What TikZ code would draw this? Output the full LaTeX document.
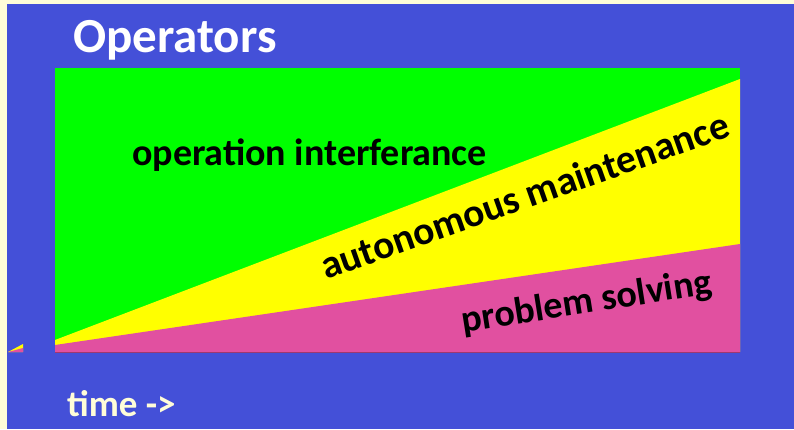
\documentclass[tikz,border=0pt]{standalone}
\usepackage{fontspec}
\setmainfont{Carlito}

\definecolor{slideblue}{RGB}{68,80,216}
\definecolor{slidecream}{RGB}{255,253,216}
\definecolor{bandgreen}{RGB}{0,255,0}
\definecolor{bandyellow}{RGB}{255,255,0}
\definecolor{bandpink}{RGB}{225,80,160}

\tikzset{
	bandtext/.style={inner sep=0pt, font=\fontsize{38}{38}\selectfont\bfseries, text=black},
}

\begin{document}
\begin{tikzpicture}[x=1pt, y=-1pt]
	\useasboundingbox (0, 0) rectangle (794, 429);
	\fill[slidecream] (0, 0) rectangle (794, 429);
	\fill[slideblue] (7, 4) rectangle (794, 429); % Фон слайда
	
	\fill[bandgreen] (55, 68) rectangle (740, 352);
	\fill[bandyellow] (55, 340) -- (740, 79) -- (740, 352) -- (55, 352) -- cycle;
	\fill[bandpink] (55, 345) -- (740, 244) -- (740, 352) -- (55, 352) -- cycle;
	\draw[color=bandpink!70!black, line width=0.8pt] (55, 352) -- (740, 352);
	
	\fill[bandyellow] (8, 352) -- (23, 344) -- (23, 352) -- cycle; % Обрывок слева
	\fill[bandpink] (8, 352) -- (23, 348) -- (23, 352) -- cycle;
	
	\node[anchor=base west, inner sep=0pt, text=white, font=\fontsize{49}{49}\selectfont\bfseries] (title) at (73, 52) {Operators};
	\node[bandtext, anchor=base west] (interf) at (132, 165) {operation interferance};
	\node[bandtext, anchor=base west, rotate=19.5, font=\fontsize{39.5}{39.5}\selectfont\bfseries] (autonom) at (326, 280) {autonomous maintenance};
	\node[bandtext, anchor=base west, rotate=9] (problem) at (463, 333) {problem solving};
	\node[anchor=base west, inner sep=0pt, text=slidecream, font=\fontsize{37}{37}\selectfont\bfseries] (timeaxis) at (67, 416) {time ->};
\end{tikzpicture}
\end{document}
